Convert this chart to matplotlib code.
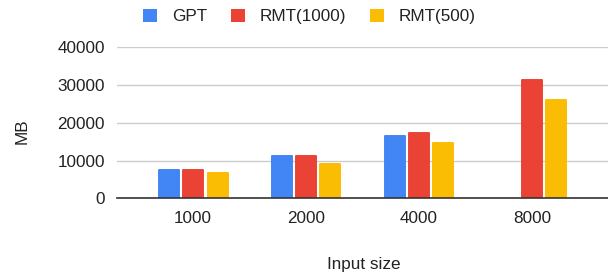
import matplotlib.pyplot as plt
import numpy as np
from matplotlib.patches import Patch

plt.rcParams['font.family'] = ['Liberation Sans', 'DejaVu Sans']

input_sizes = ['1000', '2000', '4000', '8000']
series_names = ['GPT', 'RMT(1000)', 'RMT(500)']
gpt = [7600, 11100, 16500, np.nan]
rmt_1000 = [7600, 11100, 17200, 31300]
rmt_500 = [6800, 9200, 14600, 26000]
colors = ['#4285F4', '#EA4335', '#FBBC04']

fs = 12.3
fig = plt.figure(figsize=(6.08, 2.75), dpi=100)
ax = fig.add_axes([117 / 608, 1 - 198.3 / 275, 491 / 608, (198.3 - 47.3) / 275])

x = np.arange(len(input_sizes))
width = 0.177
step = 0.2165
for i, (vals, c) in enumerate(zip([gpt, rmt_1000, rmt_500], colors)):
    # thin edge of the same colour with round joins gives the soft corners
    ax.bar(x + (i - 1) * step, vals, width, color=c, edgecolor=c,
           linewidth=1.4, joinstyle='round', zorder=3)

ax.set_xlim(-0.674, 3.674)
ax.set_ylim(0, 40000)
ax.set_yticks([0, 10000, 20000, 30000, 40000])
ax.set_xticks(x)
ax.set_xticklabels(input_sizes)
ax.tick_params(axis='both', length=0, labelsize=fs, colors='#222222')
ax.tick_params(axis='y', pad=8.6)
ax.tick_params(axis='x', pad=9.5)
ax.grid(axis='y', color='#cccccc', linewidth=1.0, zorder=0)
for s in ['top', 'right', 'left']:
    ax.spines[s].set_visible(False)
ax.spines['bottom'].set_color('#333333')
ax.spines['bottom'].set_linewidth(1.2)
ax.spines['bottom'].set_zorder(4)

fig.text(22.5 / 608, 1 - 131.5 / 275, 'MB', rotation=90, ha='center', va='center',
         fontsize=fs, color='#222222')
fig.text(364 / 608, 1 - 264 / 275, 'Input size', ha='center', va='center',
         fontsize=fs, color='#222222')

handles = [Patch(facecolor=c, edgecolor='none') for c in colors]
fig.legend(handles, series_names, loc='center left',
           bbox_to_anchor=(143 / 608, 1 - 16.5 / 275), ncol=3, frameon=False,
           fontsize=fs, handlelength=0.82, handleheight=0.82, handletextpad=0.86,
           columnspacing=1.4, borderpad=0, borderaxespad=0, labelcolor='#222222')

fig.savefig('out.png', dpi=100)
